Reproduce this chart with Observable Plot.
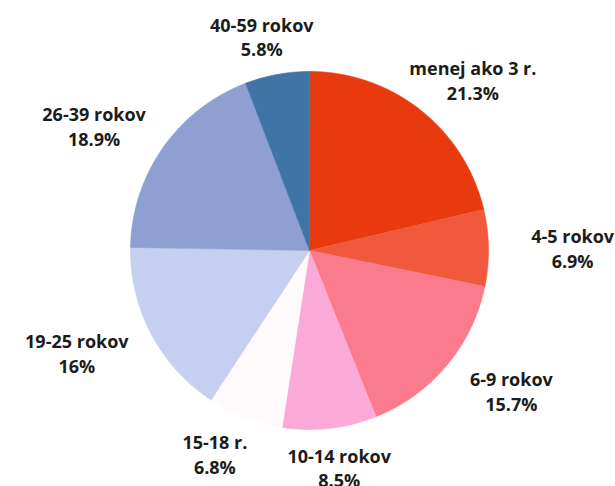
<!DOCTYPE html>
<html>
<head>
<meta charset="utf-8">
<script src="https://cdn.jsdelivr.net/npm/d3@7"></script>
<script src="https://cdn.jsdelivr.net/npm/@observablehq/plot@0.6"></script>
<style>
  html, body { margin: 0; padding: 0; background: #ffffff; }
  #chart svg { display: block; }
</style>
</head>
<body>
<div id="chart"></div>
<script>
// ---- data ----
const categories = ["menej ako 3 r.", "4-5 rokov", "6-9 rokov", "10-14 rokov", "15-18 r.", "19-25 rokov", "26-39 rokov", "40-59 rokov"];
const shares = [21.3, 6.9, 15.7, 8.5, 6.8, 16, 18.9, 5.8];
const percentLabels = ["21.3%", "6.9%", "15.7%", "8.5%", "6.8%", "16%", "18.9%", "5.8%"];
const palette = ["#e8390f", "#f0593b", "#fa7b8b", "#fbaad7", "#fefafc", "#c7cff0", "#8e9fd2", "#4174a6"];

// ---- layout ----
const W = 615, H = 486;
const R = 179, CX = 309, CY = 250;      // pie radius and centre in pixels
const LABEL_RX = 1.47, LABEL_RY = 1.218; // label ellipse, in pie radii

const total = d3.sum(shares);
let acc = 0;
const slices = categories.map((c, i) => {
  const a0 = acc / total * 2 * Math.PI;
  acc += shares[i];
  const a1 = acc / total * 2 * Math.PI;
  return {category: c, share: shares[i], label: percentLabels[i], a0, a1, mid: (a0 + a1) / 2};
});

function ring(a0, a1) {
  const n = Math.max(2, Math.ceil((a1 - a0) / (Math.PI / 360)));
  const pts = [[0, 0]];
  for (let k = 0; k <= n; k++) {
    const a = a0 + (a1 - a0) * k / n;
    pts.push([Math.sin(a), -Math.cos(a)]);
  }
  pts.push([0, 0]);
  return pts;
}

const features = slices.map(s => ({
  type: "Feature",
  properties: s,
  geometry: {type: "Polygon", coordinates: [ring(s.a0, s.a1)]}
}));

// planar frame: unit circle = pie, canvas spans these bounds
const domain = {type: "MultiPoint", coordinates: [[-CX / R, -CY / R], [(W - CX) / R, (H - CY) / R]]};

const chart = Plot.plot({
  width: W,
  height: H,
  margin: 0,
  projection: {type: "identity", domain},
  color: {domain: categories, range: palette},
  style: {background: "#ffffff"},
  marks: [
    Plot.geo(features, {
      fill: d => d.properties.category,
      stroke: d => d.properties.category,
      strokeWidth: 0.6
    }),
    Plot.text(slices, {
      x: d => LABEL_RX * Math.sin(d.mid),
      y: d => -LABEL_RY * Math.cos(d.mid),
      text: d => `${d.category}\n${d.label}`,
      fontFamily: "'Open Sans', sans-serif",
      fontWeight: "bold",
      fontSize: 18,
      lineHeight: 1.38,
      fill: "#1c1c1c",
      textAnchor: "middle",
      lineAnchor: "middle"
    })
  ]
});
document.getElementById("chart").appendChild(chart);
</script>
</body>
</html>
